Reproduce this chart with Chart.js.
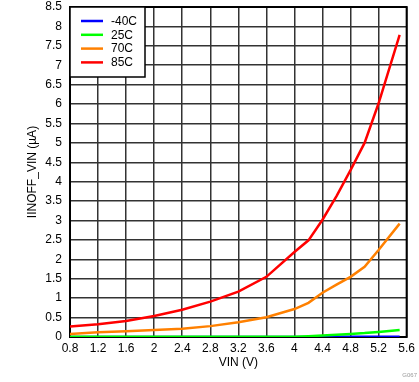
<!DOCTYPE html>
<html>
<head>
<meta charset="utf-8">
<script src="https://cdn.jsdelivr.net/npm/chart.js@4.4.1/dist/chart.umd.min.js"></script>
<style>
html,body{margin:0;padding:0;background:#fff;}
#wrap{width:419px;height:382px;position:relative;}
</style>
</head>
<body>
<div id="wrap"><canvas id="c" width="419" height="382"></canvas></div>
<script>
const vin = [0.8,1.2,1.6,2.0,2.4,2.8,3.2,3.6,4.0,4.2,4.4,4.6,4.8,5.0,5.2,5.5];
const seriesNames = ['-40C','25C','70C','85C'];
const seriesColors = ['#0000ff','#00ff00','#ff8000','#ff0000'];
const iM40 = [0.003,0.003,0.003,0.003,0.003,0.003,0.003,0.003,0.003,0.003,0.004,0.004,0.005,0.005,0.006,0.006];
const i25  = [0.005,0.005,0.005,0.005,0.005,0.005,0.005,0.005,0.008,0.02,0.04,0.06,0.08,0.10,0.13,0.18];
const i70  = [0.077,0.12,0.15,0.18,0.21,0.28,0.38,0.51,0.72,0.88,1.14,1.35,1.55,1.81,2.24,2.92];
const i85  = [0.27,0.33,0.41,0.54,0.70,0.91,1.17,1.55,2.19,2.49,3.02,3.63,4.30,5.0,6.02,7.78];
const xTicks = [0.8,1.2,1.6,2,2.4,2.8,3.2,3.6,4,4.4,4.8,5.2,5.6];
const yTicks = [0,0.5,1,1.5,2,2.5,3,3.5,4,4.5,5,5.5,6,6.5,7,7.5,8,8.5];
const xTitle = 'VIN (V)';
const yTitle = 'IINOFF_VIN (\u00B5A)';
const noteText = 'G067';

const allSeries = [iM40,i25,i70,i85];
const FONT = 'Liberation Sans, Arial, sans-serif';

const datasets = allSeries.map((s,k)=>({
  label: seriesNames[k],
  data: vin.map((x,i)=>({x:x,y:s[i]})),
  borderColor: seriesColors[k],
  backgroundColor: seriesColors[k],
  borderWidth: 2.5,
  pointRadius: 0,
  showLine: true,
  tension: 0,
  order: 4-k
}));

const framePlugin = {
  id:'frame',
  beforeDatasetsDraw(chart){
    const {ctx, chartArea:a} = chart;
    ctx.save();
    ctx.strokeStyle='#000';
    ctx.lineWidth=2;
    ctx.strokeRect(a.left, a.top, a.right-a.left, a.bottom-a.top);
    ctx.restore();
  },
  afterDatasetsDraw(chart){
    const {ctx, chartArea:a} = chart;
    ctx.save();
    const bx=a.left, by=a.top, bw=75, bh=70;
    ctx.fillStyle='#fff';
    ctx.fillRect(bx,by,bw,bh);
    ctx.strokeStyle='#000';
    ctx.lineWidth=1.5;
    ctx.strokeRect(bx,by,bw,bh);
    ctx.font='12px '+FONT;
    ctx.textBaseline='middle';
    ctx.textAlign='left';
    seriesNames.forEach((n,k)=>{
      const y = by+14+k*13.8;
      ctx.strokeStyle=seriesColors[k];
      ctx.lineWidth=2.5;
      ctx.beginPath();
      ctx.moveTo(bx+11,y);
      ctx.lineTo(bx+33,y);
      ctx.stroke();
      ctx.fillStyle='#000';
      ctx.fillText(n,bx+41,y+0.5);
    });
    ctx.font='6px '+FONT;
    ctx.fillStyle='#999';
    ctx.textAlign='right';
    ctx.fillText(noteText,417,375);
    ctx.restore();
  }
};

new Chart(document.getElementById('c'),{
  type:'scatter',
  data:{datasets},
  options:{
    responsive:false,
    animation:false,
    events:[],
    layout:{padding:{top:7,right:12,left:25,bottom:0}},
    plugins:{legend:{display:false},tooltip:{enabled:false}},
    scales:{
      x:{
        type:'linear',
        min:0.8,max:5.6,
        afterBuildTicks(s){ s.ticks = xTicks.map(v=>({value:v})); },
        afterFit(s){ s.height=45; },
        grid:{color:'#333',lineWidth:1.5,drawTicks:false},
        border:{display:false},
        ticks:{color:'#000',font:{family:FONT,size:12},padding:4,maxRotation:0,autoSkip:false,
          callback:(v)=>String(Math.round(v*10)/10)},
        title:{display:true,text:xTitle,color:'#000',font:{family:FONT,size:12},padding:{top:0,bottom:12}}
      },
      y:{
        type:'linear',
        min:0,max:8.5,
        afterBuildTicks(s){ s.ticks = yTicks.map(v=>({value:v})); },
        afterFit(s){ s.width=45; s.paddingTop=0; s.paddingBottom=0; },
        grid:{color:'#333',lineWidth:1.5,drawTicks:false},
        border:{display:false},
        ticks:{color:'#000',font:{family:FONT,size:12},padding:8,autoSkip:false,
          callback:(v)=>String(Math.round(v*10)/10)},
        title:{display:true,text:yTitle,color:'#000',font:{family:FONT,size:12},padding:{top:0,bottom:0}}
      }
    }
  },
  plugins:[framePlugin]
});
</script>
</body>
</html>
